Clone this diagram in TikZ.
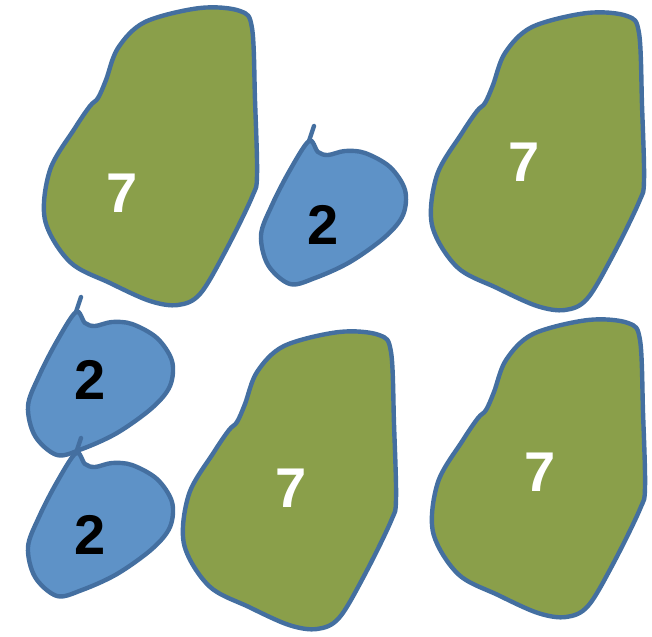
\documentclass[tikz,border=0pt]{standalone}
\usepackage{fontspec}
\setmainfont{Liberation Sans}
\definecolor{edge}{RGB}{68,111,160}
\definecolor{leaf}{RGB}{138,159,74}
\definecolor{drop}{RGB}{94,146,199}
\tikzset{
  greenblob/.style={draw=edge, fill=leaf, line width=3.3pt},
  blueblob/.style={draw=edge, fill=drop, line width=3.3pt},
  stem/.style={draw=edge, line width=3.3pt, line cap=round},
  seven/.style={text=white, font=\fontsize{42}{42}\selectfont\bfseries},
  two/.style={text=black, font=\fontsize{42}{42}\selectfont\bfseries}
}
\newcommand{\greenshape}{%
  \path[greenblob] plot[smooth cycle, tension=0.55] coordinates {
    (118,48) (145,22) (200,8) (240,11) (252,28) (255,100) (257,175) (252,197)
    (225,252) (200,294) (178,305) (150,301) (110,283) (70,262) (45,220) (50,170)
    (75,128) (90,106) (98,98) (106,80)};}
\newcommand{\blueshape}{%
  \path[blueblob] plot[smooth cycle, tension=0.55] coordinates {
    (309,141) (318,152) (328,155) (345,151) (365,153) (390,167) (405,190)
    (403,215) (385,237) (350,262) (315,278) (290,284) (268,265) (261,235)
    (272,205) (290,170)};
  \draw[stem] (309,141) -- (314,126);}
\begin{document}
\begin{tikzpicture}[x=0.75pt,y=-0.75pt]
\useasboundingbox (0,0) rectangle (652,636);
% green blobs
\begin{scope}\greenshape\end{scope}
\begin{scope}[shift={(387,5)}]\greenshape\end{scope}
\begin{scope}[shift={(139,324)}]\greenshape\end{scope}
\begin{scope}[shift={(388,312)}]\greenshape\end{scope}
% blue blobs
\begin{scope}\blueshape\end{scope}
\begin{scope}[shift={(-233,171)}]\blueshape\end{scope}
\begin{scope}[shift={(-233,312)}]\blueshape\end{scope}
% labels
\node[seven] (g1) at (122,193) {7};
\node[seven] (g2) at (524,162) {7};
\node[seven] (g3) at (291,488) {7};
\node[seven] (g4) at (540,472) {7};
\node[two] (b1) at (323,225) {2};
\node[two] (b2) at (90,380) {2};
\node[two] (b3) at (90,535) {2};
\end{tikzpicture}
\end{document}
